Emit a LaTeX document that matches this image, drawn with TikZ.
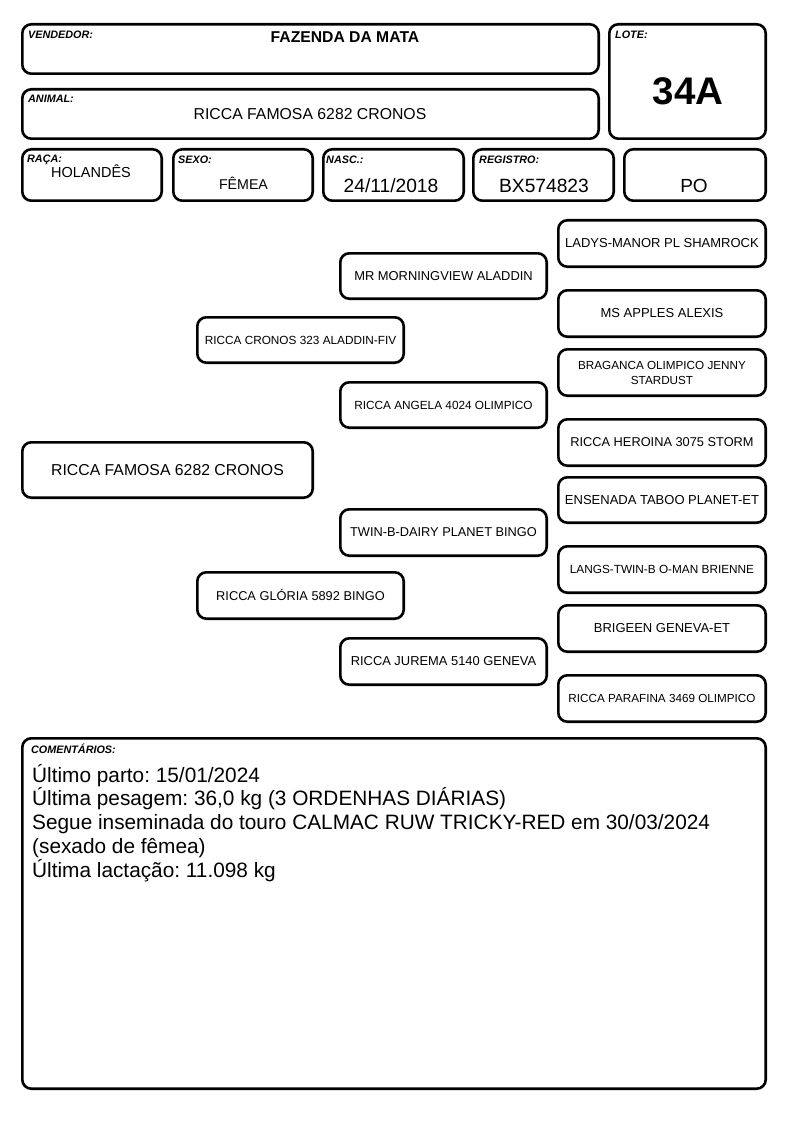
\documentclass[tikz,border=0pt]{standalone}
\usepackage{fontspec}
\setmainfont{Liberation Sans}
\frenchspacing
\newcommand\fs[1]{\fontsize{#1}{#1}\selectfont}
\tikzset{
  card/.style={draw=black, line width=2.6pt, rounded corners=9pt, inner sep=0pt, align=center},
  lbl/.style={anchor=base west, inner sep=0pt, font=\fs{10.8}\bfseries\itshape},
  val/.style={anchor=base, inner sep=0pt},
  cline/.style={anchor=base west, inner sep=0pt, font=\fs{20.8}},
}
% name x1 y1 x2 y2 fontsize content (outer edges in px)
\newcommand\cardbox[7]{%
  \node[card, font={\fontsize{#6}{15}\selectfont}, minimum width={(#4-#2-2.6)*1pt}, minimum height={(#5-#3-2.6)*1pt}]
    (#1) at ({(#2+#4)/2},{(#3+#5)/2}) {#7};}
\begin{document}
\begin{tikzpicture}[x=1pt,y=-1pt]
\useasboundingbox[fill=white] (0,0) rectangle (794,1123);

% ---- header boxes
\cardbox{vend}{21}{23}{600}{75}{10}{}
\cardbox{lote}{608}{23}{767}{140}{10}{}
\cardbox{anim}{21}{88}{600}{140}{10}{}
\cardbox{raca}{21}{148}{163}{202}{10}{}
\cardbox{sexo}{172}{148}{314}{202}{10}{}
\cardbox{nasc}{322}{148}{465}{202}{10}{}
\cardbox{regi}{472}{148}{615}{202}{10}{}
\cardbox{cat}{623}{148}{767}{202}{10}{}

% ---- header labels
\node[lbl] (lvend) at (28,39) {VENDEDOR:};
\node[lbl] (llote) at (615,39) {LOTE:};
\node[lbl] (lanim) at (28,103) {ANIMAL:};
\node[lbl] (lraca) at (27,163) {RAÇA:};
\node[lbl] (lsexo) at (178,164) {SEXO:};
\node[lbl] (lnasc) at (326,164) {NASC.:};
\node[lbl] (lregi) at (479,164) {REGISTRO:};

% ---- header values
\node[val, font=\fs{15.7}\bfseries] (vvend) at (345,43) {FAZENDA DA MATA};
\node[val, font=\fs{15.8}] (vanim) at (310,120) {RICCA FAMOSA 6282 CRONOS};
\node[val, font=\fs{38.5}\bfseries] (vlote) at (688,105) {34A};
\node[val, font=\fs{14.5}] (vraca) at (91,178) {HOLANDÊS};
\node[val, font=\fs{14.2}] (vsexo) at (243.5,190) {FÊMEA};
\node[val, font=\fs{19.2}] (vnasc) at (391,193) {24/11/2018};
\node[val, font=\fs{19.2}] (vregi) at (544,193) {BX574823};
\node[val, font=\fs{19}] (vcat) at (694,193) {PO};

% ---- pedigree
\cardbox{p1}{21}{441}{314}{499}{15.8}{RICCA FAMOSA 6282 CRONOS}

\cardbox{p2a}{196}{316}{405}{364}{11.8}{RICCA CRONOS 323 ALADDIN-FIV}
\cardbox{p2b}{196}{571}{405}{620}{12.8}{RICCA GLÓRIA 5892 BINGO}

\cardbox{p3a}{339}{252}{548}{300}{12.9}{MR MORNINGVIEW ALADDIN}
\cardbox{p3b}{339}{381}{548}{429}{11.8}{RICCA ANGELA 4024 OLIMPICO}
\cardbox{p3c}{339}{508}{548}{557}{12.8}{TWIN-B-DAIRY PLANET BINGO}
\cardbox{p3d}{339}{637}{548}{686}{12.9}{RICCA JUREMA 5140 GENEVA}

\cardbox{p4a}{557}{219}{767}{268}{13}{LADYS-MANOR PL SHAMROCK}
\cardbox{p4b}{557}{289}{767}{338}{13}{MS APPLES ALEXIS}
\cardbox{p4c}{557}{348}{767}{397}{11.7}{BRAGANCA OLIMPICO JENNY\\STARDUST}
\cardbox{p4d}{557}{418}{767}{467}{12.8}{RICCA HEROINA 3075 STORM}
\cardbox{p4e}{557}{476}{767}{524}{13}{ENSENADA TABOO PLANET-ET}
\cardbox{p4f}{557}{545}{767}{594}{11.8}{LANGS-TWIN-B O-MAN BRIENNE}
\cardbox{p4g}{557}{604}{767}{653}{13}{BRIGEEN GENEVA-ET}
\cardbox{p4h}{557}{674}{767}{723}{11.7}{RICCA PARAFINA 3469 OLIMPICO}

% ---- comments
\cardbox{com}{21}{737}{767}{1090}{10}{}
\node[lbl] (lcom) at (31,753) {COMENTÁRIOS:};
\node[cline] (c1) at (32,782) {Último parto: 15/01/2024};
\node[cline] (c2) at (32,805.8) {Última pesagem: 36,0 kg (3 ORDENHAS DIÁRIAS)};
\node[cline] (c3) at (32,829.6) {Segue inseminada do touro CALMAC RUW TRICKY-RED em 30/03/2024};
\node[cline] (c4) at (32,853.4) {(sexado de fêmea)};
\node[cline] (c5) at (32,877.2) {Última lactação: 11.098 kg};
\end{tikzpicture}
\end{document}
